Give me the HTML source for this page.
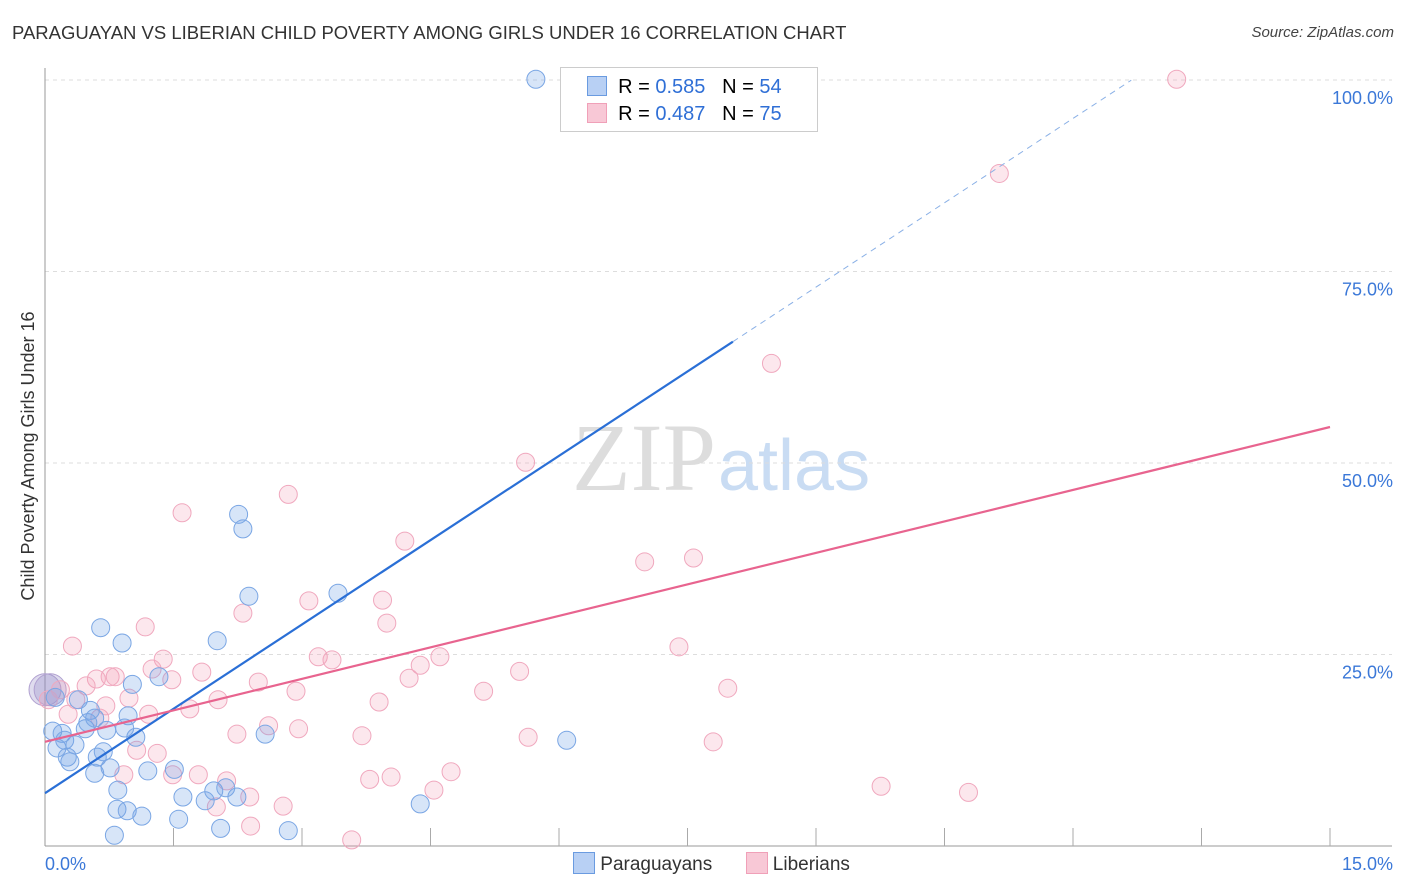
<!DOCTYPE html>
<html><head><meta charset="utf-8"><style>
body{margin:0;background:#fff;font-family:"Liberation Sans",sans-serif;}
#wrap{position:relative;width:1406px;height:892px;overflow:hidden;}
</style></head><body>
<div id="wrap">
<div style="position:absolute;left:12px;top:22px;font-size:18.5px;color:#333;">PARAGUAYAN VS LIBERIAN CHILD POVERTY AMONG GIRLS UNDER 16 CORRELATION CHART</div>
<div style="position:absolute;right:12px;top:24px;font-size:15px;color:#444;font-style:italic;">Source: ZipAtlas.com</div>
<svg id="svg" width="1406" height="892" style="position:absolute;left:0;top:0">
<text x="716" y="490" font-size="96" fill="#ddd" text-anchor="end" font-family="Liberation Serif">ZIP</text>
<text x="718" y="490" font-size="72" fill="#c9dcf3" font-family="Liberation Sans">atlas</text>
<text transform="translate(34,456) rotate(-90)" font-size="18" fill="#333" text-anchor="middle">Child Poverty Among Girls Under 16</text>
</svg>
<div style="position:absolute;left:560px;top:67px;width:256px;height:63px;border:1px solid #ccc;background:#fff;font-size:20px;">
<div style="position:absolute;left:26px;top:8px;"><span style="display:inline-block;width:18px;height:18px;background:#b8d0f4;border:1px solid #6a9be0;vertical-align:-3px"></span>&nbsp; R = <span style="color:#2f6fd6">0.585</span> &nbsp;&nbsp;N = <span style="color:#2f6fd6">54</span></div>
<div style="position:absolute;left:26px;top:35px;"><span style="display:inline-block;width:18px;height:18px;background:#f8c8d6;border:1px solid #f0a0b8;vertical-align:-3px"></span>&nbsp; R = <span style="color:#2f6fd6">0.487</span> &nbsp;&nbsp;N = <span style="color:#2f6fd6">75</span></div>
</div>
<div style="position:absolute;left:573px;top:852px;font-size:19px;color:#333;">
<span><span style="display:inline-block;width:20px;height:20px;background:#b8d0f4;border:1px solid #6a9be0;vertical-align:-4px"></span> Paraguayans</span>
<span style="margin-left:28px"><span style="display:inline-block;width:20px;height:20px;background:#f8c8d6;border:1px solid #f0a0b8;vertical-align:-4px"></span> Liberians</span>
</div>
</div>
<script>
const yTicks=[25,50,75,100];
const yTickLabels=["25.0%","50.0%","75.0%","100.0%"];
const xTickLabels=["0.0%","15.0%"];
const blueX=[5.73,2.26,2.31,2.38,3.42,2.01,0.65,0.90,1.33,1.02,6.09,2.57,4.38,0.09,0.14,0.20,0.23,0.26,0.29,0.35,0.39,0.47,0.50,0.53,0.58,0.61,0.68,0.58,0.72,0.76,0.85,0.84,0.96,0.97,0.93,1.06,1.13,1.20,1.51,1.56,1.61,1.87,1.97,2.05,2.11,2.24,2.84,0.81,0.12];
const blueY=[100.1,43.3,41.4,32.6,33.0,26.8,28.5,26.5,22.1,21.1,13.8,14.6,5.5,15.0,12.8,14.7,13.8,11.6,11.0,13.2,19.1,15.3,16.1,17.7,16.7,11.6,12.3,9.5,15.1,10.2,7.3,4.8,4.6,17.0,15.4,14.2,3.9,9.8,10.0,3.5,6.4,5.9,7.2,2.3,7.6,6.4,2.0,1.4,19.4];
const pinkX=[13.21,11.14,8.48,5.61,2.84,1.60,4.20,7.00,7.57,3.94,3.08,2.31,3.99,1.17,0.32,7.40,1.38,3.19,3.35,4.61,4.38,5.54,1.25,1.83,0.76,0.82,0.60,1.48,4.25,2.49,7.97,2.93,5.12,0.48,0.36,0.98,2.02,3.90,0.71,1.69,1.21,0.27,0.64,2.61,2.96,2.24,3.70,5.64,7.80,1.07,1.31,0.92,1.49,1.79,2.12,3.79,4.04,4.74,4.54,2.39,2.00,2.78,2.40,3.58,9.76,10.78,0.04,0.18];
const pinkY=[100.1,87.8,63.0,50.1,45.9,43.5,39.8,37.1,37.6,32.1,32.0,30.4,29.1,28.6,26.1,26.0,24.4,24.7,24.3,24.7,23.6,22.8,23.1,22.7,22.1,22.1,21.8,21.7,21.9,21.4,20.6,20.2,20.2,20.9,19.1,19.3,19.1,18.8,18.3,17.9,17.2,17.2,16.7,15.7,15.3,14.6,14.4,14.2,13.6,12.5,12.1,9.3,9.3,9.3,8.5,8.7,9.0,9.7,7.3,6.4,5.1,5.2,2.6,0.8,7.8,7.0,19.1,20.4];
const bigX=[0.0,0.06];
const bigY=[20.4,20.4];
const blueLine=[6.9,7.34,8.03,12.68];
const pinkLine=[13.6,54.7];
const NS="http://www.w3.org/2000/svg";
const svg=document.getElementById('svg');
const X=v=>45+v/15*1285, Y=v=>846-v/100*766;
function mk(t,a){const e=document.createElementNS(NS,t);for(const k in a)e.setAttribute(k,a[k]);svg.appendChild(e);return e;}
yTicks.forEach((t,i)=>{
 const g=mk('line',{x1:45,x2:1392,y1:Y(t),y2:Y(t),stroke:'#ddd','stroke-dasharray':'4,4'});
 
 
 const tx=mk('text',{x:1393,y:Y(t)+24,'text-anchor':'end','font-size':18,fill:'#3b78d8'});tx.textContent=yTickLabels[i];
 
 
});
const ax=mk('line',{x1:45,x2:45,y1:68,y2:846,stroke:'#999'});


const bx=mk('line',{x1:45,x2:1392,y1:846,y2:846,stroke:'#999'});


for(let i=1;i<=10;i++){const t=mk('line',{x1:X(i*1.5),x2:X(i*1.5),y1:828,y2:846,stroke:'#aaa'});
 
 }
[[xTickLabels[0],45,'start'],[xTickLabels[1],1393,'end']].forEach(d=>{const t=mk('text',{x:d[1],y:870,'text-anchor':d[2],'font-size':18,fill:'#3b78d8'});t.textContent=d[0];
 
 });
function dots(xs,ys,fill,stroke,name,r){xs.forEach((x,i)=>{const c=mk('circle',{cx:X(x),cy:Y(ys[i]),r:r,fill:fill,stroke:stroke,'stroke-width':1});
 
 });}
dots(bigX,bigY,'rgba(150,140,200,0.3)','#b0a0d0','point-large',16);
dots(pinkX,pinkY,'rgba(245,160,185,0.25)','#f0a8be','point-liberian',9);
dots(blueX,blueY,'rgba(110,160,230,0.28)','#7aa6e4','point-paraguayan',9);
const bl=mk('line',{x1:X(0),y1:Y(blueLine[0]),x2:X(blueLine[2]),y2:Y(blueLine[0]+blueLine[1]*blueLine[2]),stroke:'#2a6fd6','stroke-width':2.2});


const bd=mk('line',{x1:X(blueLine[2]),y1:Y(blueLine[0]+blueLine[1]*blueLine[2]),x2:X(blueLine[3]),y2:Y(blueLine[0]+blueLine[1]*blueLine[3]),stroke:'#8ab0e6','stroke-width':1,'stroke-dasharray':'6,5'});


const pl=mk('line',{x1:X(0),y1:Y(pinkLine[0]),x2:X(15),y2:Y(pinkLine[1]),stroke:'#e8648f','stroke-width':2.2});


</script>
</body></html>
